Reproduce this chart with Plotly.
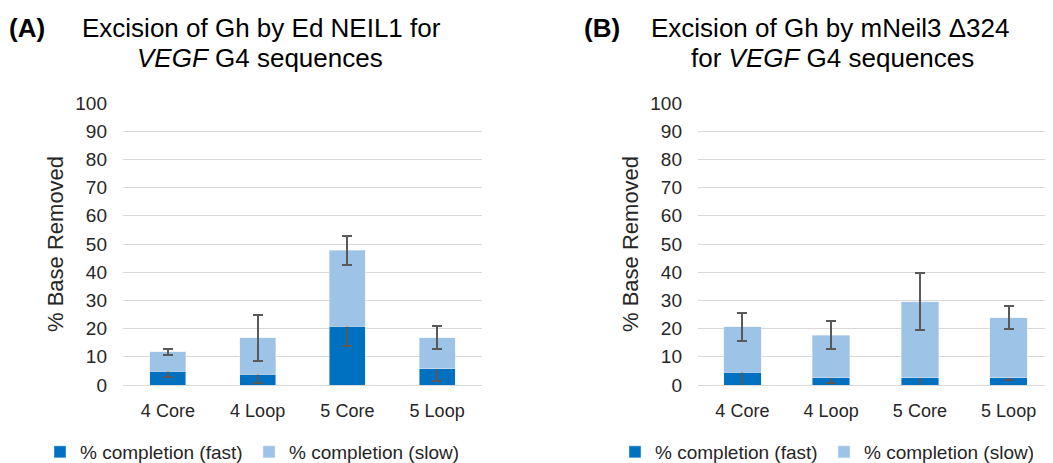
import plotly.graph_objects as go

categories = ["4 Core", "4 Loop", "5 Core", "5 Loop"]

# Panel A: Ed NEIL1
a_fast = [4.9, 3.8, 20.9, 5.7]
a_fast_err = [2.0, 3.1, 7.0, 4.2]
a_slow = [6.9, 13.0, 26.8, 11.1]
a_slow_err = [1.05, 8.2, 5.0, 4.0]

# Panel B: mNeil3 Δ324
b_fast = [4.5, 2.6, 2.6, 2.6]
b_fast_err = [5.0, 1.9, 3.2, 1.0]
b_slow = [16.2, 15.1, 27.0, 21.2]
b_slow_err = [5.0, 5.0, 10.0, 4.1]

y_ticks = [0, 10, 20, 30, 40, 50, 60, 70, 80, 90, 100]

W, H = 1053, 463
OFF = 8  # page body margin
FAST = "#0070C0"
SLOW = "#9DC3E6"
ERR = "#595959"
FONT = "Liberation Sans, Arial, sans-serif"
TXT = "#262626"

def px_x(p):
    return (p - OFF) / W

def px_y(p):
    return 1 - (p - OFF) / H

fig = go.Figure()

def err(vals):
    return dict(type="data", array=vals, visible=True, color=ERR, thickness=2, width=5)

fig.add_trace(go.Bar(x=categories, y=a_fast, name="% completion (fast)", marker_color=FAST,
                     width=0.4, error_y=err(a_fast_err), xaxis="x", yaxis="y", legend="legend"))
fig.add_trace(go.Bar(x=categories, y=a_slow, name="% completion (slow)", marker_color=SLOW,
                     width=0.4, error_y=err(a_slow_err), xaxis="x", yaxis="y", legend="legend"))
fig.add_trace(go.Bar(x=categories, y=b_fast, name="% completion (fast)", marker_color=FAST,
                     width=0.42, error_y=err(b_fast_err), xaxis="x2", yaxis="y2", legend="legend2"))
fig.add_trace(go.Bar(x=categories, y=b_slow, name="% completion (slow)", marker_color=SLOW,
                     width=0.42, error_y=err(b_slow_err), xaxis="x2", yaxis="y2", legend="legend2"))

ydom = [px_y(385), px_y(103)]
yax = dict(range=[0, 100], tickvals=y_ticks, showgrid=True, gridcolor="#d9d9d9", gridwidth=1,
           zeroline=True, zerolinecolor="#d9d9d9", zerolinewidth=1, showline=False,
           ticks="", ticklabelstandoff=15, tickfont=dict(size=19, color=TXT, family=FONT),
           domain=ydom, fixedrange=True, automargin=False)
xax = dict(showgrid=False, zeroline=False, showline=False, ticks="", automargin=False,
           tickfont=dict(size=18, color=TXT, family=FONT), ticklabelstandoff=13)

legend_common = dict(orientation="h", font=dict(size=19, color=TXT, family=FONT),
                     bgcolor="rgba(0,0,0,0)", yanchor="middle", xanchor="left",
                     itemwidth=30, traceorder="normal", entrywidth=164, entrywidthmode="pixels")

fig.update_layout(
    width=W, height=H,
    margin=dict(l=0, r=0, t=0, b=0, autoexpand=False),
    paper_bgcolor="white", plot_bgcolor="white",
    barmode="stack",
    font=dict(family=FONT, color=TXT),
    xaxis=dict(xax, domain=[px_x(123), px_x(482)], range=[-0.5, 3.5], anchor="y"),
    yaxis=dict(yax, anchor="x"),
    xaxis2=dict(xax, domain=[px_x(698), px_x(1053)], range=[-0.5, 3.5], anchor="y2"),
    yaxis2=dict(yax, anchor="x2"),
    legend=dict(legend_common, x=px_x(40), y=px_y(452)),
    legend2=dict(legend_common, x=px_x(615), y=px_y(452)),
    showlegend=True,
)

title_font = dict(size=26, color="black", family=FONT)
annos = [
    dict(text="<b>(A)</b>", x=px_x(7), y=px_y(28), xanchor="left", yanchor="middle"),
    dict(text="Excision of Gh by Ed NEIL1 for", x=px_x(261), y=px_y(28), xanchor="center", yanchor="middle"),
    dict(text="<i>VEGF</i> G4 sequences", x=px_x(260), y=px_y(58), xanchor="center", yanchor="middle"),
    dict(text="<b>(B)</b>", x=px_x(582), y=px_y(28), xanchor="left", yanchor="middle"),
    dict(text="Excision of Gh by mNeil3 Δ324", x=px_x(830), y=px_y(28), xanchor="center", yanchor="middle"),
    dict(text="for <i>VEGF</i> G4 sequences", x=px_x(832), y=px_y(58), xanchor="center", yanchor="middle"),
]
for a in annos:
    fig.add_annotation(xref="paper", yref="paper", showarrow=False, font=title_font, **a)

for xc in (55, 630):
    fig.add_annotation(text="% Base Removed", xref="paper", yref="paper", x=px_x(xc), y=px_y(244),
                       textangle=-90, showarrow=False, xanchor="center", yanchor="middle",
                       font=dict(size=22, color=TXT, family=FONT))

fig.write_html("out.html")
